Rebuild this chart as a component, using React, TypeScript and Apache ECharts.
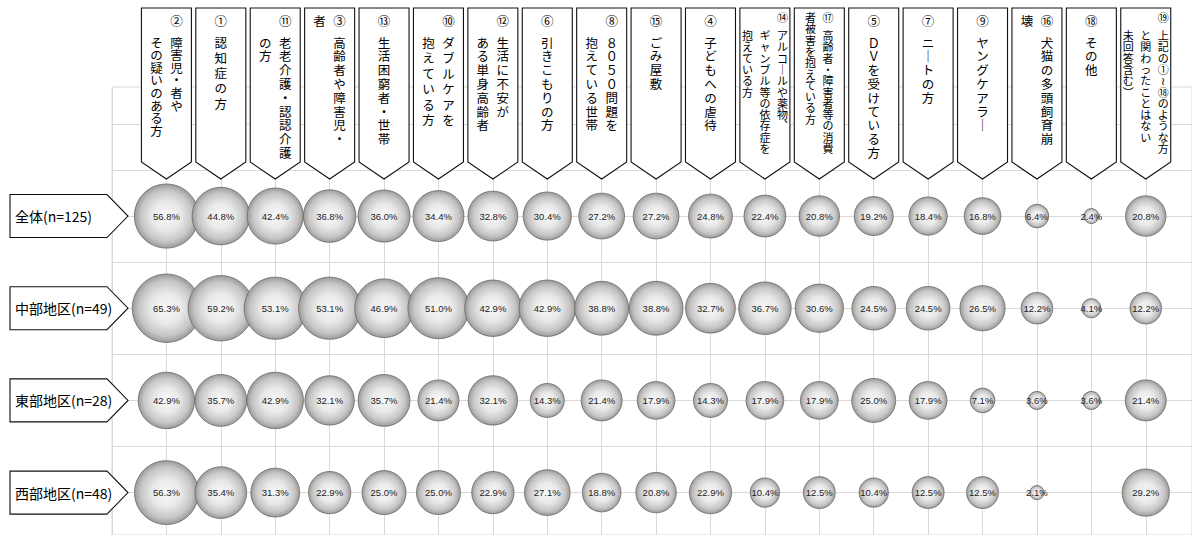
import React, { useEffect, useRef } from "react";
import * as echarts from "echarts";

// ---- data ----
const headerNums = ["②", "①", "⑪", "③", "⑬", "⑩", "⑫", "⑥", "⑧", "⑮", "④", "⑭", "⑰", "⑤", "⑦", "⑨", "⑯", "⑱", "⑲"];
const headerTexts: string[][] = [
  ["障害児・者や", "その疑いのある方"],
  ["認知症の方"],
  ["老老介護・認認介護", "の方"],
  ["高齢者や障害児・", "者"],
  ["生活困窮者・世帯"],
  ["ダブルケアを", "抱えている方"],
  ["生活に不安が", "ある単身高齢者"],
  ["引きこもりの方"],
  ["８０５０問題を", "抱えている世帯"],
  ["ごみ屋敷"],
  ["子どもへの虐待"],
  ["アルコールや薬物、", "ギャンブル等の依存症を", "抱えている方"],
  ["高齢者・障害者等の消費", "者被害を抱えている方"],
  ["ＤＶを受けている方"],
  ["ニートの方"],
  ["ヤングケアラー"],
  ["犬猫の多頭飼育崩", "壊"],
  ["その他"],
  ["上記の①~⑱のような方", "と関わったことはない", "未回答含む）"],
];
const rowLabels = ["全体(n=125)", "中部地区(n=49)", "東部地区(n=28)", "西部地区(n=48)"];
const valsAll = [56.8, 44.8, 42.4, 36.8, 36.0, 34.4, 32.8, 30.4, 27.2, 27.2, 24.8, 22.4, 20.8, 19.2, 18.4, 16.8, 6.4, 2.4, 20.8];
const valsChubu = [65.3, 59.2, 53.1, 53.1, 46.9, 51.0, 42.9, 42.9, 38.8, 38.8, 32.7, 36.7, 30.6, 24.5, 24.5, 26.5, 12.2, 4.1, 12.2];
const valsTobu = [42.9, 35.7, 42.9, 32.1, 35.7, 21.4, 32.1, 14.3, 21.4, 17.9, 14.3, 17.9, 17.9, 25.0, 17.9, 7.1, 3.6, 3.6, 21.4];
const valsSeibu = [56.3, 35.4, 31.3, 22.9, 25.0, 25.0, 22.9, 27.1, 18.8, 20.8, 22.9, 10.4, 12.5, 10.4, 12.5, 12.5, 2.1, 0, 29.2];
const rowValues = [valsAll, valsChubu, valsTobu, valsSeibu];
const gridLineValues = [-1, -0.5, 0, 0.5, 1, 1.5, 2, 2.5, 3, 3.5];

// ---- layout / style config ----
const JP = "'Noto Sans CJK JP', 'Noto Sans CJK SC', sans-serif";
const SMALL = new Set([11, 12, 18]);
const WRAP_TOP = new Set([3, 12, 16]);
const PITCH_OVERRIDE: Record<number, number> = { 0: 12.6, 1: 15.3, 5: 15.5 };
const VERT_MAP: Record<string, string> = { "ー": "｜", "、": "︑", "）": "︶", "~": "≀" };
const verticalize = (s: string) => Array.from(s).map((c) => VERT_MAP[c] ?? c).join("\n");

export default function App() {
  const ref = useRef<HTMLDivElement>(null);
  useEffect(() => {
    if (!ref.current) return;
    const chart = echarts.init(ref.current, undefined, { renderer: "svg" });

    const bubbleData: any[] = [];
    rowValues.forEach((vals, r) => {
      vals.forEach((v, c) => {
        if (v > 0) bubbleData.push([c + 1, r, v]);
      });
    });

    const bubbleColor = new echarts.graphic.RadialGradient(0.5, 0.5, 0.5, [
      { offset: 0, color: "#f8f8f8" },
      { offset: 0.45, color: "#e9e9e9" },
      { offset: 0.8, color: "#c7c5c5" },
      { offset: 1, color: "#9d9a9a" },
    ]);

    chart.setOption({
      animation: false,
      backgroundColor: "#ffffff",
      grid: {
        left: 112,
        right: 0,
        top: 87,
        bottom: 0,
        show: true,
        borderColor: "#d9d9d9",
        borderWidth: 1,
      },
      xAxis: {
        type: "value",
        min: 0,
        max: 19.85,
        interval: 1,
        axisLabel: { show: false },
        axisLine: { show: false },
        axisTick: { show: false },
        splitLine: { show: true, lineStyle: { color: "#d9d9d9", width: 1 } },
      },
      yAxis: {
        type: "value",
        inverse: true,
        min: -1.4,
        max: 3.46,
        axisLabel: { show: false },
        axisLine: { show: false },
        axisTick: { show: false },
        splitLine: { show: false },
      },
      series: [
        {
          type: "scatter",
          data: [],
          z: 1,
          silent: true,
          markLine: {
            z: 1,
            silent: true,
            symbol: "none",
            label: { show: false },
            lineStyle: { color: "#d9d9d9", width: 1, type: "solid" },
            emphasis: { disabled: true },
            data: gridLineValues.map((v) => ({ yAxis: v })),
          },
        },
        {
          type: "scatter",
          z: 3,
          silent: true,
          data: bubbleData,
          symbolSize: (val: number[]) => 10 * Math.pow(val[2], 0.46),
          itemStyle: {
            color: bubbleColor,
            borderColor: "#6a6666",
            borderWidth: 0.8,
            opacity: 1,
          },
          label: {
            show: true,
            position: "inside",
            formatter: (p: any) => p.value[2].toFixed(1) + "%",
            fontSize: 9.5,
            color: "#222",
            fontFamily: "'Liberation Sans', Arial, sans-serif",
          },
          emphasis: { disabled: true },
        },
        {
          type: "custom",
          z: 5,
          silent: true,
          clip: false,
          data: headerNums.map((_, i) => [i + 1, 0]),
          renderItem: (params: any, api: any) => {
            const i = params.dataIndex;
            const cx = api.coord([i + 1, 0])[0];
            const small = SMALL.has(i);
            const fs = small ? 11 : 12.5;
            const pitch = PITCH_OVERRIDE[i] ?? (small ? 11.3 : 13.8);
            const colGap = small ? 17.5 : 20;
            const numY = small ? 17 : 20;
            const textY = small ? 35 : 42;
            const cols = headerTexts[i];
            const n = cols.length;
            const children: any[] = [
              {
                type: "polygon",
                shape: {
                  points: [
                    [cx - 25, 8],
                    [cx + 25, 8],
                    [cx + 25, 162],
                    [cx, 179],
                    [cx - 25, 162],
                  ],
                },
                style: { fill: "#ffffff", stroke: "#111", lineWidth: 1.1 },
              },
            ];
            cols.forEach((col, j) => {
              const x = cx + ((n - 1) / 2 - j) * colGap;
              const top = j === n - 1 && WRAP_TOP.has(i) ? numY : textY;
              children.push({
                type: "text",
                style: {
                  text: verticalize(col),
                  x,
                  y: top - pitch / 2,
                  align: "center",
                  verticalAlign: "top",
                  lineHeight: pitch,
                  fontSize: fs,
                  fontFamily: JP,
                  fill: "#000",
                },
              });
            });
            children.push({
              type: "text",
              style: {
                text: headerNums[i],
                x: cx + ((n - 1) / 2) * colGap,
                y: numY,
                align: "center",
                verticalAlign: "middle",
                fontSize: fs,
                fontFamily: JP,
                fill: "#000",
              },
            });
            return { type: "group", children };
          },
        },
        {
          type: "custom",
          z: 5,
          silent: true,
          clip: false,
          data: rowLabels.map((_, i) => [0, i]),
          renderItem: (params: any, api: any) => {
            const i = params.dataIndex;
            const y = api.coord([0, i])[1];
            return {
              type: "group",
              children: [
                {
                  type: "polygon",
                  shape: {
                    points: [
                      [10, y - 21.5],
                      [107, y - 21.5],
                      [128, y],
                      [107, y + 21.5],
                      [10, y + 21.5],
                    ],
                  },
                  style: { fill: "#ffffff", stroke: "#111", lineWidth: 1.1 },
                },
                {
                  type: "text",
                  style: {
                    text: rowLabels[i],
                    x: 15,
                    y,
                    align: "left",
                    verticalAlign: "middle",
                    fontSize: 14,
                    fontFamily: JP,
                    fill: "#000",
                  },
                },
              ],
            };
          },
        },
      ],
    });
    return () => chart.dispose();
  }, []);
  return (
    <div
      ref={ref}
      style={{ position: "absolute", left: 0, top: 0, width: 1192, height: 535, background: "#fff" }}
    />
  );
}
